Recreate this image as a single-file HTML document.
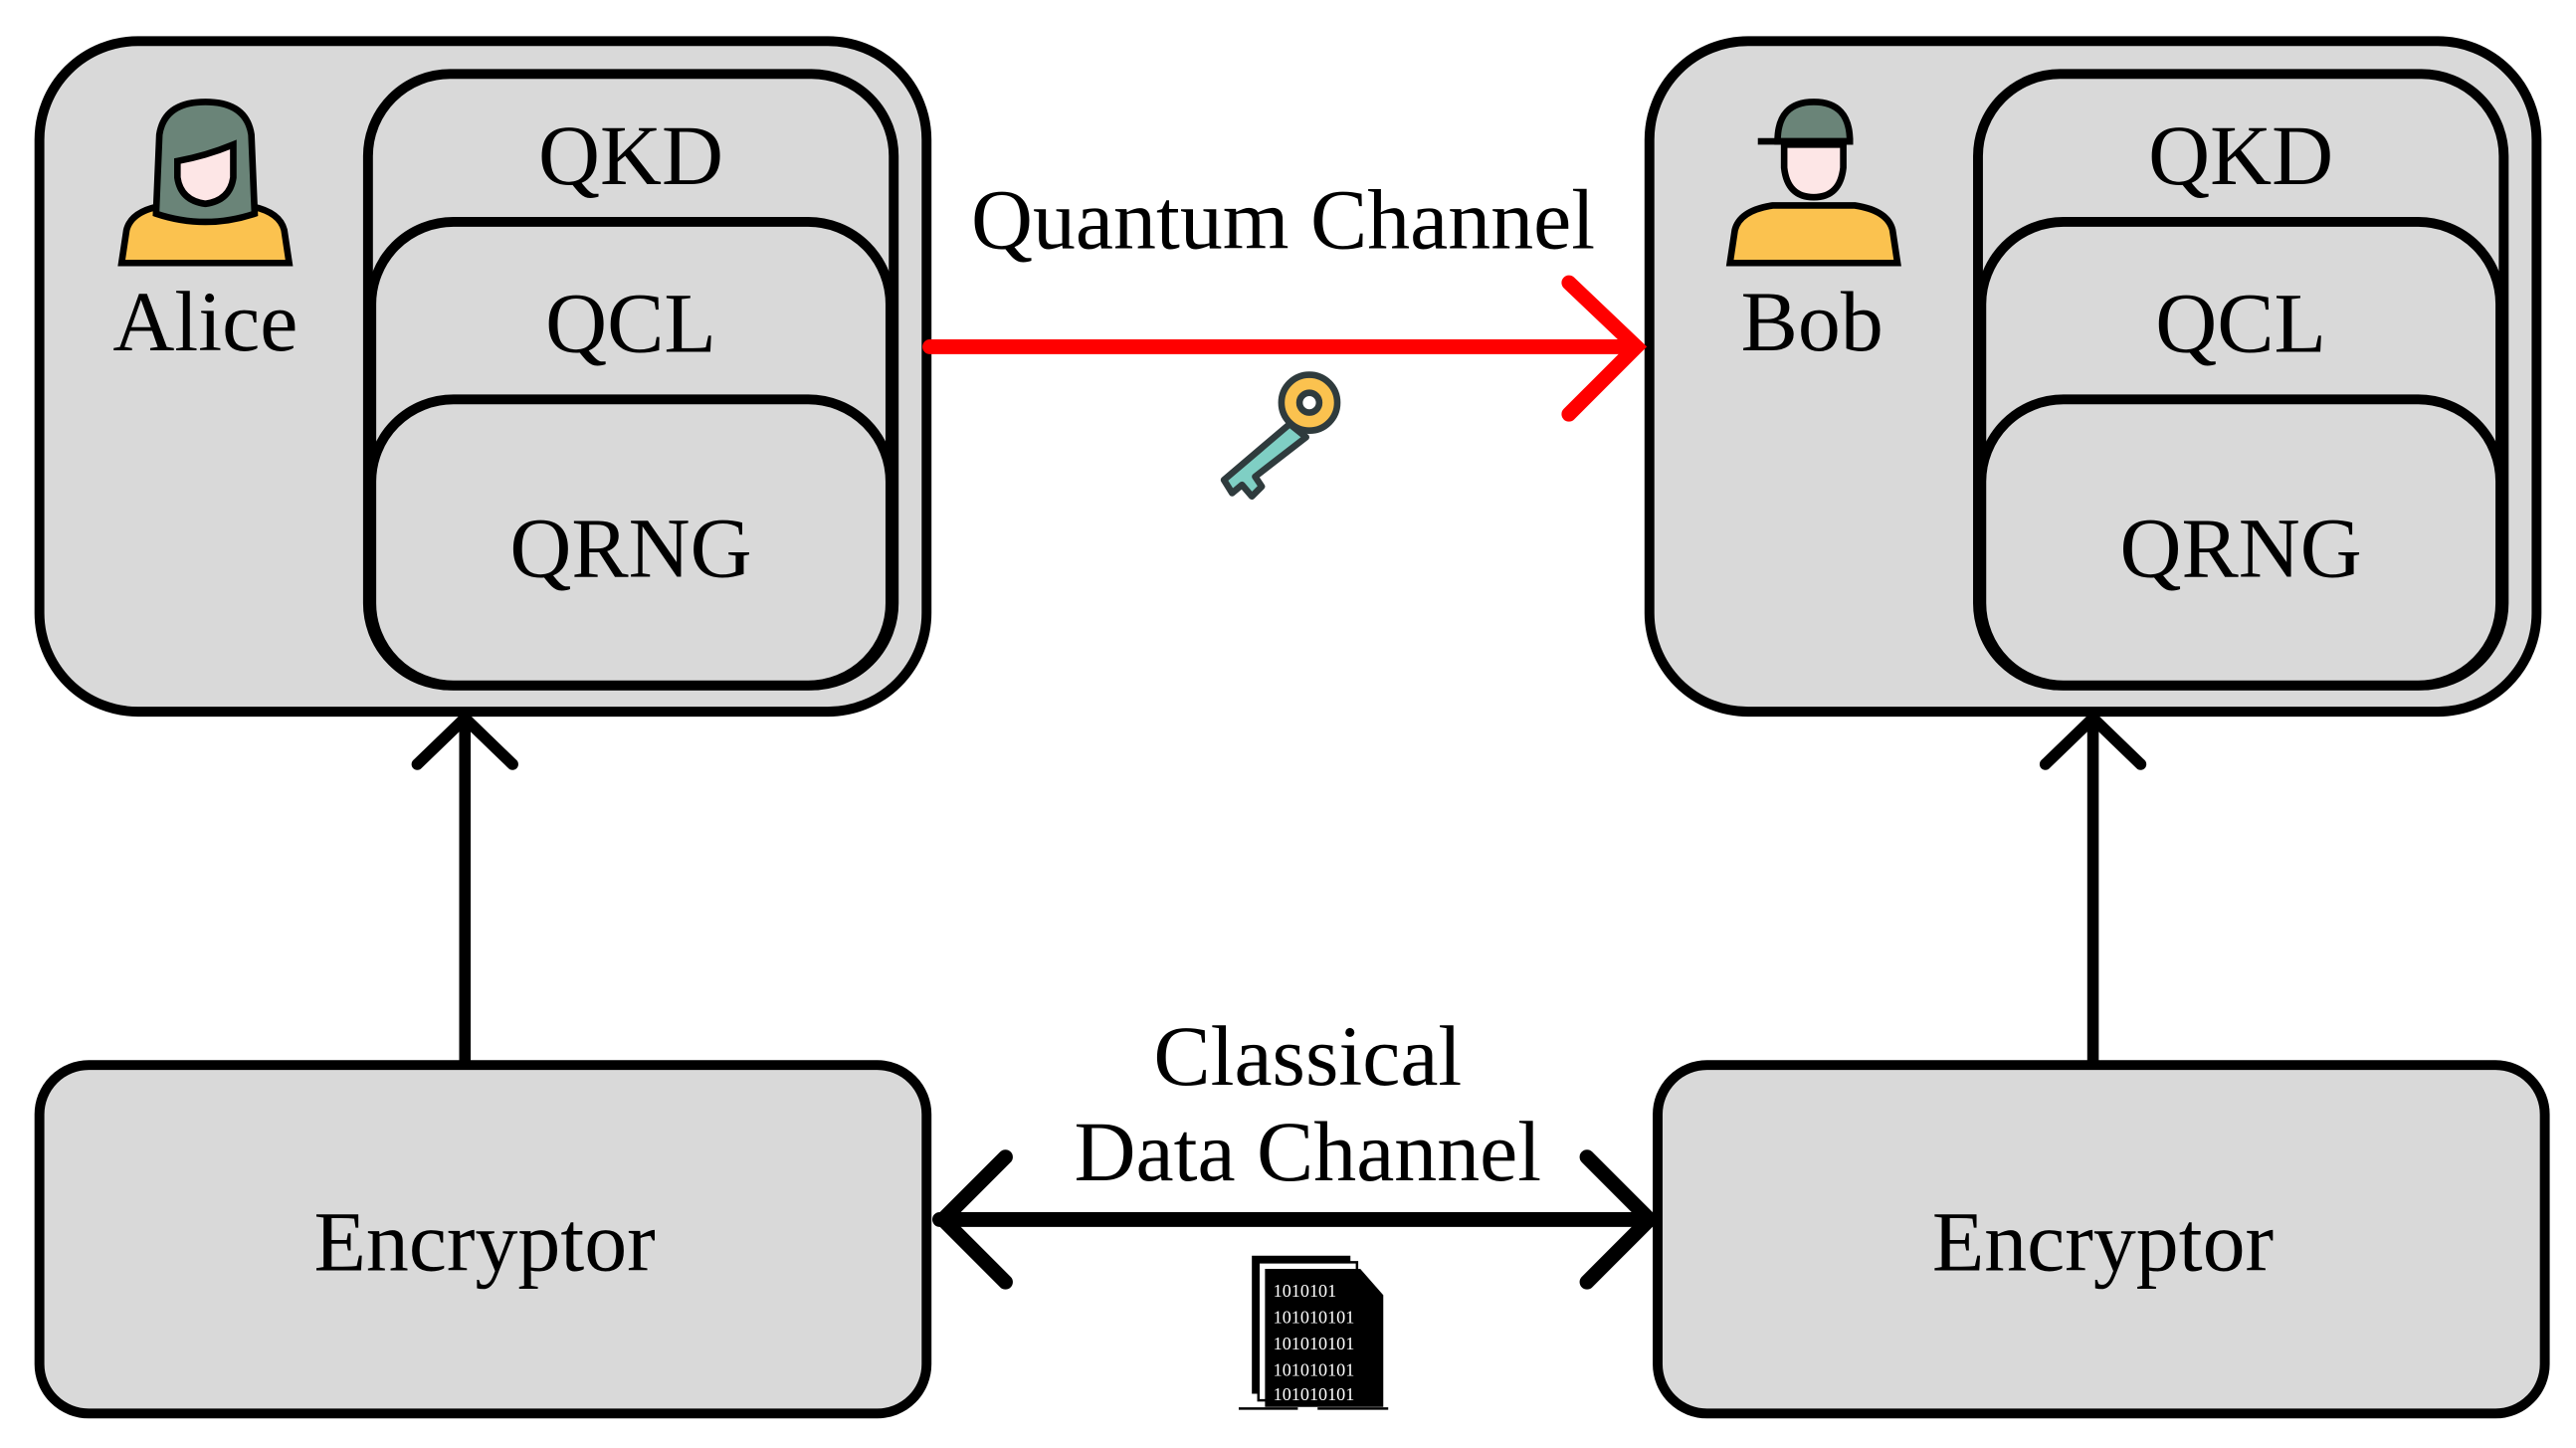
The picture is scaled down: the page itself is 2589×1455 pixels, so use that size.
<!DOCTYPE html>
<html><head><meta charset="utf-8"><style>
html,body{margin:0;padding:0;background:#fff;}
svg{display:block;}
text{font-family:"Liberation Serif",serif;fill:#000;}
</style></head><body>
<svg width="2589" height="1455" viewBox="0 0 1568 881" preserveAspectRatio="none" xmlns="http://www.w3.org/2000/svg">
<g stroke="#000" stroke-width="6" fill="#d9d9d9">
<rect x="24" y="25" width="540" height="408" rx="60"/>
<rect x="224" y="45" width="320" height="372" rx="50"/>
<rect x="226" y="135" width="316" height="282" rx="50"/>
<rect x="226" y="243" width="316" height="174" rx="50"/>
<rect x="1004" y="25" width="540" height="408" rx="60"/>
<rect x="1204" y="45" width="320" height="372" rx="50"/>
<rect x="1206" y="135" width="316" height="282" rx="50"/>
<rect x="1206" y="243" width="316" height="174" rx="50"/>
<rect x="24" y="648" width="540" height="212" rx="30"/>
<rect x="1009" y="648" width="540" height="212" rx="30"/>
</g>
<g font-size="52" text-anchor="middle">
<text x="384" y="112">QKD</text>
<text x="384" y="214">QCL</text>
<text x="384" y="351">QRNG</text>
<text x="1364" y="112">QKD</text>
<text x="1364" y="214">QCL</text>
<text x="1364" y="351">QRNG</text>
<text x="125" y="213">Alice</text>
<text x="1103" y="213">Bob</text>
<text x="781" y="151">Quantum Channel</text>
<text x="295" y="773">Encryptor</text>
<text x="1280" y="773">Encryptor</text>
<text x="796" y="660">Classical</text>
<text x="796" y="718">Data Channel</text>
</g>
<g stroke="#f00" stroke-width="9" fill="none" stroke-linecap="round">
<line x1="566" y1="211" x2="995" y2="211"/>
<polyline points="955,172 996,211 955,252"/>
</g>
<g stroke="#000" stroke-width="7" fill="none" stroke-linecap="round">
<line x1="283" y1="645" x2="283" y2="440"/>
<polyline points="254,465 283,437 312,465"/>
<line x1="1274" y1="645" x2="1274" y2="440"/>
<polyline points="1245,465 1274,437 1303,465"/>
<line x1="572" y1="742" x2="1004" y2="742" stroke-width="9"/>
<polyline points="612,704 574,742 612,780" stroke-width="9"/>
<polyline points="966,704 1004,742 966,780" stroke-width="9"/>
</g>
<g stroke="#000" stroke-width="4">
<path d="M74,160 L77,140 Q80,128 100,125 L150,125 Q170,128 173,140 L176,160 Z" fill="#fbc24f"/>
<path d="M95,130 L97,82 Q100,62 125,62 Q150,62 153,82 L155,130 Q125,140 95,130 Z" fill="#6a8478"/>
<path d="M108,98 Q125,95 142,88 L142,108 Q140,122 125,124 Q110,122 108,108 Z" fill="#fde6e6"/>
</g>
<g stroke="#000" stroke-width="4">
<path d="M1053,160 L1056,140 Q1059,128 1079,125 L1129,125 Q1149,128 1152,140 L1155,160 Z" fill="#fbc24f"/>
<path d="M1086,88 L1086,102 Q1088,120 1104,120 Q1120,120 1122,102 L1122,88 Z" fill="#fde6e6"/>
<path d="M1082,86 Q1082,62 1104,62 Q1126,62 1126,86 Z" fill="#6a8478"/>
<line x1="1070" y1="86" x2="1128" y2="86"/>
</g>
<g stroke="#2f3b3d" stroke-width="4" stroke-linejoin="round">
<path d="M785,258 L745,292 L750,300 L756,295 L762,302 L768,296 L764,290 L795,266 Z" fill="#7fcfc4"/>
<circle cx="797" cy="245" r="17" fill="#fbc24f"/>
<circle cx="797" cy="245" r="6" fill="#fff"/>
</g>
<g>
<rect x="762" y="764" width="60" height="84" fill="#000"/>
<rect x="766" y="768" width="60" height="84" fill="#fff" stroke="#000" stroke-width="1.5"/>
<path d="M770,772 L828,772 L842,788 L842,856 L770,856 Z" fill="#000"/>
<g font-family="Liberation Sans,sans-serif" font-size="11">
<text x="775" y="789" style="fill:#fff">1010101</text>
<text x="775" y="805" style="fill:#fff">101010101</text>
<text x="775" y="821" style="fill:#fff">101010101</text>
<text x="775" y="837" style="fill:#fff">101010101</text>
<text x="775" y="852" style="fill:#fff">101010101</text>
</g>
<line x1="754" y1="857" x2="790" y2="857" stroke="#000" stroke-width="1.5"/>
<line x1="802" y1="857" x2="845" y2="857" stroke="#000" stroke-width="1.5"/>
</g>
</svg>
</body></html>
